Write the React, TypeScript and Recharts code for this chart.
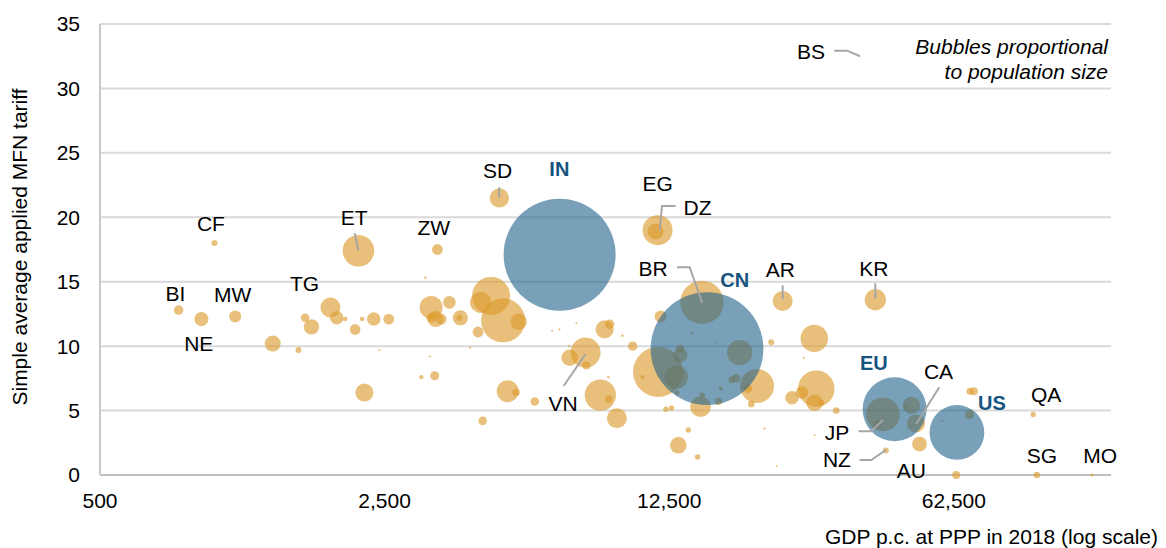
import React from 'react';
import { ScatterChart, Scatter, XAxis, YAxis, ZAxis, CartesianGrid } from 'recharts';

// bubbles: country code ('' = unlabelled), GDP p.c. at PPP, MFN tariff, population (millions)
// rows of the four arrays line up one to one
const codes = [
  'BI', 'NE', 'MW', '', '', 'TG', '', '', '', '', '', '', '', '', '', '',
  'ET', 'CF', 'ZW', '', '', '', '', '', '', '', '', '', '', '', '', '',
  'SD', 'IN', 'EG', 'DZ', '', '', '', '', '', '', '', '', '', '', '',
  'VN', '', '', '', 'BR', 'CN', '', '', '', '', '', '', '', '', '',
  '', '', '', '', '', '', '', '', '', '', '', '', '', '', '', '', '', '', '', '', '', '', '', '',
  'AR', 'KR', '', '', '', '', '', '', '', '', 'EU', 'JP', '', '', '', 'CA', 'AU', 'NZ',
  '', '', 'US', '', '', '', 'QA', 'SG', 'MO', 'BS', '', '', '',
];
const gdp = [
  780, 887, 1074, 1328, 1536, 1595, 1653, 1840, 1907, 2000, 2116, 2200, 2230, 2351, 2428, 2559,
  2156, 955, 3370, 3149, 3252, 3606, 3337, 3441, 3257, 3837, 3815, 4240, 4053, 3226, 3078, 3318,
  4784, 6726, 11705, 11575, 4565, 4304, 4886, 5335, 7394, 6716, 6445, 8676, 8925, 9590, 10165,
  7790, 7120, 7825, 11905, 15045, 15480, 11735, 10757, 13311, 13290, 13011, 13061, 14237, 18620, 20537,
  19516, 18250, 17811, 16714, 16528, 15066, 14923, 19873, 22258, 16290, 12270, 12665, 13160, 13923, 14675, 21430, 22943, 5014, 5258, 5844, 8467, 8874, 9298, 4353,
  23740, 40090, 28387, 26730, 28710, 25025, 26480, 28430, 29530, 32140, 44705, 41860, 40595, 49200, 47675, 50450, 51480, 42550,
  68450, 70000, 63600, 68300, 58600, 63350, 97900, 99950, 136600, 36670, 7094, 8859, 28430,
];
const tariff = [
  12.8, 12.1, 12.3, 10.2, 9.7, 12.2, 11.5, 13.0, 12.2, 12.1, 11.3, 12.1, 6.4, 12.1, 9.7, 12.1,
  17.4, 18.0, 17.5, 15.3, 13.0, 13.4, 12.1, 12.1, 12.2, 12.2, 12.2, 11.1, 9.9, 9.2, 7.6, 7.7,
  21.5, 17.1, 19.0, 18.9, 13.9, 13.4, 12.0, 11.9, 11.8, 11.3, 11.2, 11.3, 11.7, 10.8, 10.0,
  9.5, 9.1, 8.5, 12.3, 13.4, 9.8, 8.0, 7.6, 9.3, 9.8, 7.6, 6.4, 11.0, 9.5, 6.9,
  6.7, 7.5, 7.4, 6.7, 5.7, 6.2, 5.3, 5.5, 10.3, 10.3, 5.1, 5.2, 2.3, 3.5, 1.4, 3.6, 0.7, 6.5, 6.4, 5.7, 6.2, 5.9, 4.4, 4.2,
  13.5, 13.6, 10.6, 9.1, 6.7, 6.0, 6.4, 5.6, 5.6, 5.0, 5.1, 4.7, 3.9, 5.4, 5.3, 4.0, 2.4, 1.9,
  6.5, 6.5, 3.3, 4.7, 4.2, 0, 4.7, 0, 0, 32.5, 10.0, 7.6, 3.1,
];
const population = [
  10, 22, 16, 28, 4, 8, 26, 44, 20, 2.3, 12.4, 2.3, 36, 20, 0.5, 13,
  110, 4, 13, 0.7, 58, 17.5, 28, 13, 11, 25, 4, 13, 0.5, 0.5, 2.1, 9,
  41, 1380, 99, 28, 159, 50, 213, 30, 0.5, 0.5, 0.4, 36, 9.7, 0.7, 9.7,
  99, 30, 7, 16, 207, 1400, 275, 1.8, 22, 7, 60, 2.8, 0.7, 71, 127,
  8, 8, 5.4, 1.8, 6, 3.2, 47, 4.8, 4, 0.5, 3.2, 3.2, 30, 3.2, 3.2, 0.5, 0.5, 53, 6, 8, 108, 6, 44, 8,
  44, 50, 83, 0.5, 147, 20, 17.5, 30, 4, 4.8, 450, 126, 7, 33, 1.8, 36, 24, 4,
  5.4, 7, 330, 9.7, 0.5, 7, 3.2, 4.8, 1, 0.4, 0.5, 0.7, 0.4,
];
const highlighted = ['IN', 'CN', 'EU', 'US'];

// label positions (data coordinates)
const labelCodes = ['BI', 'NE', 'MW', 'TG', 'CF', 'ET', 'ZW', 'SD', 'IN', 'EG', 'DZ', 'BR', 'CN', 'AR', 'KR', 'VN', 'EU', 'CA', 'US', 'QA', 'JP', 'NZ', 'AU', 'SG', 'MO', 'BS'];
const labelX = [766, 874, 1059, 1589, 936, 2104, 3300, 4739, 6716, 11705, 14675, 11405, 18095, 23430, 39780, 6858, 39780, 57300, 77500, 105350, 32270, 32270, 49120, 102850, 143000, 27880];
const labelY = [14.09, 10.22, 13.99, 14.88, 19.5, 20.0, 19.22, 23.62, 23.75, 22.58, 20.77, 16.01, 15.13, 15.91, 16.04, 5.51, 8.67, 8.02, 5.56, 6.23, 3.31, 1.16, 0.31, 1.53, 1.53, 32.83];

// leader lines (data coordinates)
const leaderX = [
  [2111, 2156], [4780, 4780], [12961, 12001, 11840], [13061, 14027, 15066], [23740, 23740],
  [40090, 40090], [6881, 7790], [57550, 50525], [36460, 39180, 41860], [36670, 39180, 42550], [31790, 34150, 36670],
];
const leaderY = [
  [18.76, 17.41], [22.33, 21.52], [20.88, 20.88, 18.96], [16.12, 16.12, 13.37], [14.72, 13.64],
  [14.88, 13.68], [6.91, 9.39], [6.81, 3.96], [3.39, 3.39, 4.27], [1.16, 1.16, 1.94], [32.93, 32.93, 32.52],
];

const xTicks = [500, 2500, 12500, 62500];
const yTicks = [0, 5, 10, 15, 20, 25, 30, 35];

const FONT = '"Liberation Sans", Arial, sans-serif';
const ORANGE = '#DB9A2A';
const BLUE = '#20608A';
const LABEL_BLUE = '#17537F';

const bubbles = codes.map((c, i) => ({ code: c, x: gdp[i], y: tariff[i], z: population[i] }));
const orangeData = bubbles.filter(b => !highlighted.includes(b.code));
const blueData = bubbles.filter(b => highlighted.includes(b.code));
const labelData = labelCodes.map((c, i) => ({ code: c, x: labelX[i], y: labelY[i], z: 0 }));

const LabelShape = (props: any) => {
  const { cx, cy, payload } = props;
  const hl = highlighted.includes(payload.code);
  return (
    <text x={cx} y={cy} dy="0.35em" textAnchor="middle" fontFamily={FONT}
      fontSize={hl ? 20 : 21} fontWeight={hl ? 'bold' : 'normal'} fill={hl ? LABEL_BLUE : '#000'}>
      {payload.code}
    </text>
  );
};

export default function App() {
  return (
    <div style={{ width: 1166, height: 548 }}>
      <style>{'body{margin:0}'}</style>
      <ScatterChart width={1166} height={548} margin={{ top: 24, right: 55, bottom: 0, left: 0 }}>
        <CartesianGrid horizontal vertical={false} stroke="#d9d9d9" strokeWidth={2} />
        <XAxis
          type="number"
          dataKey="x"
          scale="log"
          domain={[500, 152000]}
          ticks={xTicks}
          height={73}
          tickLine={false}
          tickSize={6}
          tickMargin={12}
          axisLine={{ stroke: '#bfbfbf', strokeWidth: 2 }}
          tick={{ fill: '#000', fontSize: 21, fontFamily: FONT }}
          tickFormatter={(v) => Number(v).toLocaleString('en-US')}
        />
        <YAxis
          type="number"
          dataKey="y"
          domain={[0, 35]}
          ticks={yTicks}
          width={100}
          tickLine={false}
          tickSize={6}
          tickMargin={14}
          axisLine={{ stroke: '#c8c8c8', strokeWidth: 2 }}
          tick={{ fill: '#000', fontSize: 21, fontFamily: FONT }}
        />
        <ZAxis type="number" dataKey="z" domain={[0, 1400]} range={[0, Math.PI * 56.4 * 56.4]} />
        <Scatter data={orangeData} fill={ORANGE} fillOpacity={0.62} isAnimationActive={false} />
        <Scatter data={blueData} fill={BLUE} fillOpacity={0.6} isAnimationActive={false} />
        {leaderX.map((xs, i) => (
          <Scatter
            key={'l' + i}
            data={xs.map((x, j) => ({ x, y: leaderY[i][j], z: 0 }))}
            line={{ stroke: '#a6a6a6', strokeWidth: 2 }}
            lineType="joint"
            shape={() => <g />}
            isAnimationActive={false}
          />
        ))}
        <Scatter data={labelData} shape={LabelShape} isAnimationActive={false} />
        <text x={1158} y={537} dy="0.35em" textAnchor="end" fontFamily={FONT} fontSize={21} fill="#000">
          GDP p.c. at PPP in 2018 (log scale)
        </text>
        <text x={20} y={247} dy="0.35em" textAnchor="middle" fontFamily={FONT} fontSize={21} fill="#000"
          transform="rotate(-90 20 247)">
          Simple average applied MFN tariff
        </text>
        <text x={1108} y={47} dy="0.35em" textAnchor="end" fontFamily={FONT} fontSize={21} fontStyle="italic" fill="#000">
          Bubbles proportional
        </text>
        <text x={1108} y={72} dy="0.35em" textAnchor="end" fontFamily={FONT} fontSize={21} fontStyle="italic" fill="#000">
          to population size
        </text>
      </ScatterChart>
    </div>
  );
}
